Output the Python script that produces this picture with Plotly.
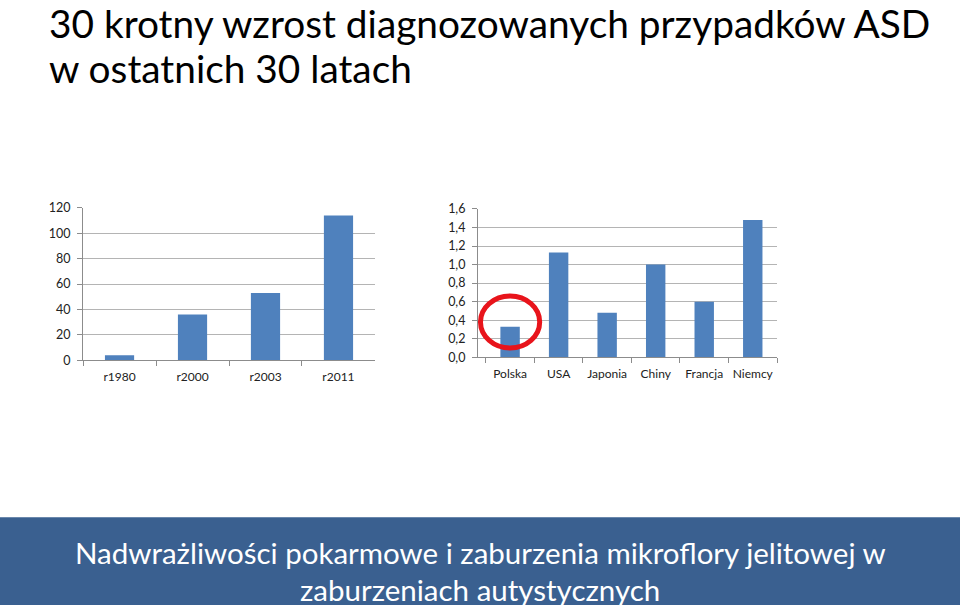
import plotly.graph_objects as go

# dane z obu wykresów
lata = ["r1980", "r2000", "r2003", "r2011"]
przypadki = [4, 36, 53, 114]

kraje = ["Polska", "USA", "Japonia", "Chiny", "Francja", "Niemcy"]
odsetek = [0.33, 1.13, 0.48, 1.0, 0.60, 1.48]

tytul = ["30 krotny wzrost diagnozowanych przypadków ASD", "w ostatnich 30 latach"]
stopka = ["Nadwrażliwości pokarmowe i zaburzenia mikroflory jelitowej w",
          "zaburzeniach autystycznych"]

FONT = "Lato"
NIEBIESKI = "#4f81bd"
PASEK = "#3a6090"
SIATKA = "#b4b4b4"
OS = "#8c8c8c"

fig = go.Figure()
fig.add_trace(go.Bar(x=lata, y=przypadki, marker=dict(color=NIEBIESKI, line=dict(width=0)),
                     xaxis="x", yaxis="y", hoverinfo="x+y"))
fig.add_trace(go.Bar(x=kraje, y=odsetek, marker=dict(color=NIEBIESKI, line=dict(width=0)),
                     xaxis="x2", yaxis="y2", hoverinfo="x+y"))

os_x = dict(showgrid=False, showline=True, linecolor=OS, linewidth=1,
            ticks="outside", tickcolor=OS, ticklen=5, tickson="boundaries", tickangle=0,
            ticklabelstandoff=5,
            tickfont=dict(family=FONT, size=12, color="#222"), fixedrange=True)
os_y = dict(showgrid=True, gridcolor=SIATKA, gridwidth=1, showline=True, linecolor=OS,
            linewidth=1, ticks="outside", tickcolor=OS, ticklen=5, zeroline=False,
            ticklabelstandoff=4,
            tickfont=dict(family=FONT, size=12.5, color="#222"), fixedrange=True)

fig.update_layout(
    width=960, height=612,
    margin=dict(l=0, r=0, t=0, b=0),
    paper_bgcolor="white", plot_bgcolor="white",
    showlegend=False, bargap=0.6, separators=", ",
    xaxis=dict(os_x, domain=[0.0865, 0.3906], anchor="y"),
    yaxis=dict(os_y, domain=[0.410, 0.665], range=[0, 120], dtick=20, anchor="x"),
    xaxis2=dict(os_x, domain=[0.4979, 0.8094], anchor="y2"),
    yaxis2=dict(os_y, domain=[0.415, 0.6634], range=[0, 1.6], dtick=0.2,
                tickformat=".1f", anchor="x2"),
)

# pasek na dole
fig.add_shape(type="rect", xref="paper", yref="paper", x0=0, x1=1, y0=0, y1=1 - 522 / 612,
              fillcolor=PASEK, line=dict(width=0), layer="below")

# czerwone kółko wokół Polski
fig.add_shape(type="circle", xref="x2", yref="y2", x0=-0.61, x1=0.61, y0=0.10, y1=0.66,
              line=dict(color="#e8141b", width=5))

# tytuł (dwie linie)
for t, yy in zip(tytul, [15, 61]):
    fig.add_annotation(text=t, xref="paper", yref="paper", x=48 / 960, y=1 - yy / 612,
                       xanchor="left", yanchor="middle", showarrow=False, borderpad=0,
                       font=dict(family=FONT, size=38.8, color="black"))

for t, yy in zip(stopka, [558, 596]):
    fig.add_annotation(text=t, xref="paper", yref="paper", x=0.5, y=1 - yy / 612,
                       xanchor="center", yanchor="middle", showarrow=False,
                       font=dict(family=FONT, size=29.5, color="white"))

fig.write_html("out.html", config={"displayModeBar": False},
               post_script="document.body.style.margin='0';document.body.style.overflow='hidden';")
